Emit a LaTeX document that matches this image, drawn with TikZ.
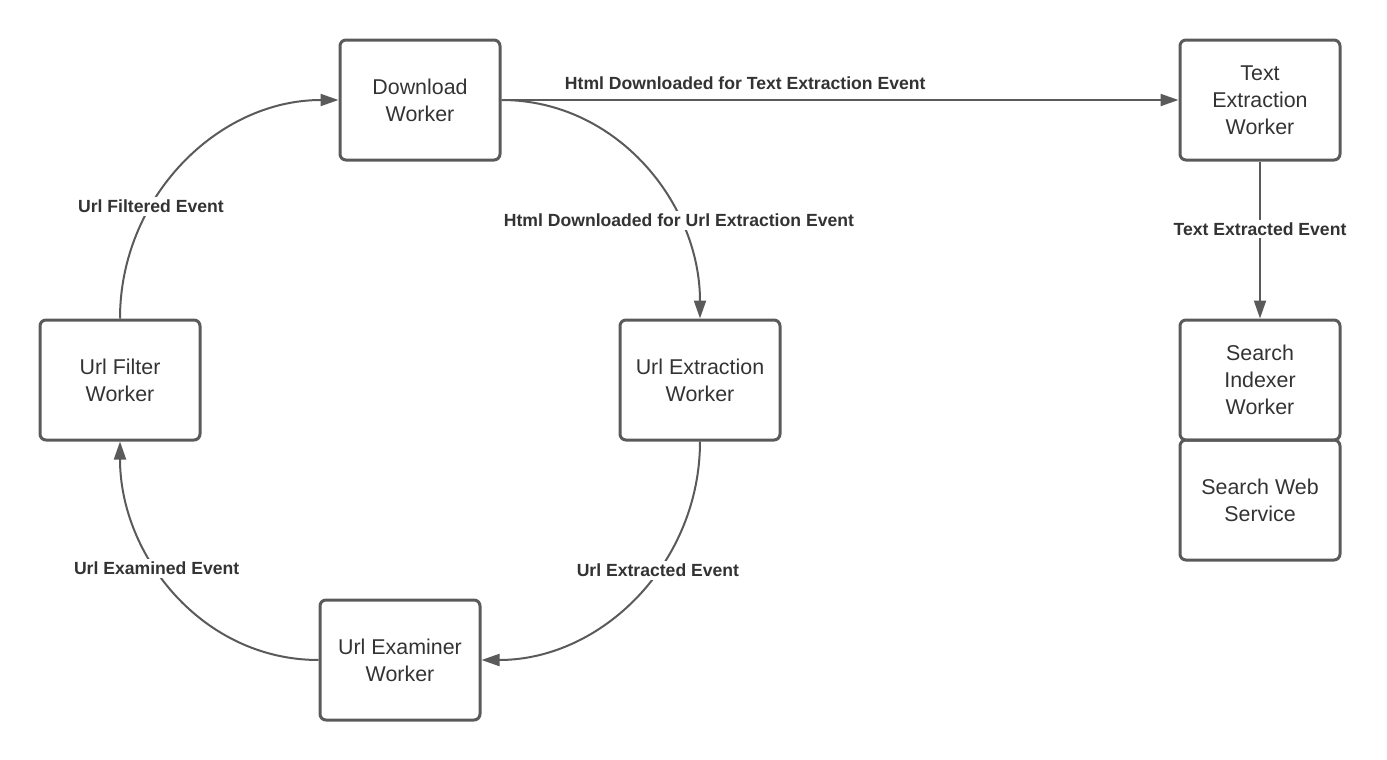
\documentclass[tikz,border=0pt]{standalone}
\usepackage{fontspec}
\setmainfont{Liberation Sans}
\usetikzlibrary{arrows.meta}
\definecolor{edgegray}{HTML}{5A5A5A}
\definecolor{textgray}{HTML}{333333}
\tikzset{
  worker/.style={draw=edgegray, line width=1.5pt, rounded corners=3pt,
    minimum width=80pt, minimum height=60pt, align=center, text=textgray,
    font=\fontsize{10.7}{13.5}\selectfont},
  flow/.style={draw=edgegray, line width=1pt, -{Triangle[length=9pt,width=6pt]}},
  evt/.style={fill=white, text=textgray, inner sep=1.5pt,
    font=\bfseries\fontsize{8.8}{10.6}\selectfont}
}
\begin{document}
\begin{tikzpicture}[x=0.5pt, y=-0.5pt]
  \useasboundingbox (0,0) rectangle (1387,760);

  % Crawl loop workers
  \node[worker] (download) at (420,100) {Download\\Worker};
  \node[worker] (urlextract) at (700,380) {Url Extraction\\Worker};
  \node[worker] (examiner) at (400,660) {Url Examiner\\Worker};
  \node[worker] (filter) at (120,380) {Url Filter\\Worker};

  % Search side
  \node[worker] (textextract) at (1260,100) {Text\\Extraction\\Worker};
  \node[worker] (indexer) at (1260,380) {Search\\Indexer\\Worker};
  \node[worker] (websvc) at (1260,500) {Search Web\\Service};

  % Events round the loop
  \draw[flow] (download.east) to[out=0, in=90]
    node[evt, pos=0.7] {Html Downloaded for Url Extraction Event} (urlextract.north);
  \draw[flow] (urlextract.south) to[out=270, in=0]
    node[evt, pos=0.4] {Url Extracted Event} (examiner.east);
  \draw[flow] (examiner.west) to[out=180, in=270]
    node[evt, pos=0.6] {Url Examined Event} (filter.south);
  \draw[flow] (filter.north) to[out=90, in=180]
    node[evt, pos=0.34] {Url Filtered Event} (download.west);

  % Events to search
  \draw[flow] (download.east) --
    node[evt, pos=0.36, yshift=8.5pt] {Html Downloaded for Text Extraction Event} (textextract.west);
  \draw[flow] (textextract.south) --
    node[evt, pos=0.43] {Text Extracted Event} (indexer.north);
\end{tikzpicture}
\end{document}
